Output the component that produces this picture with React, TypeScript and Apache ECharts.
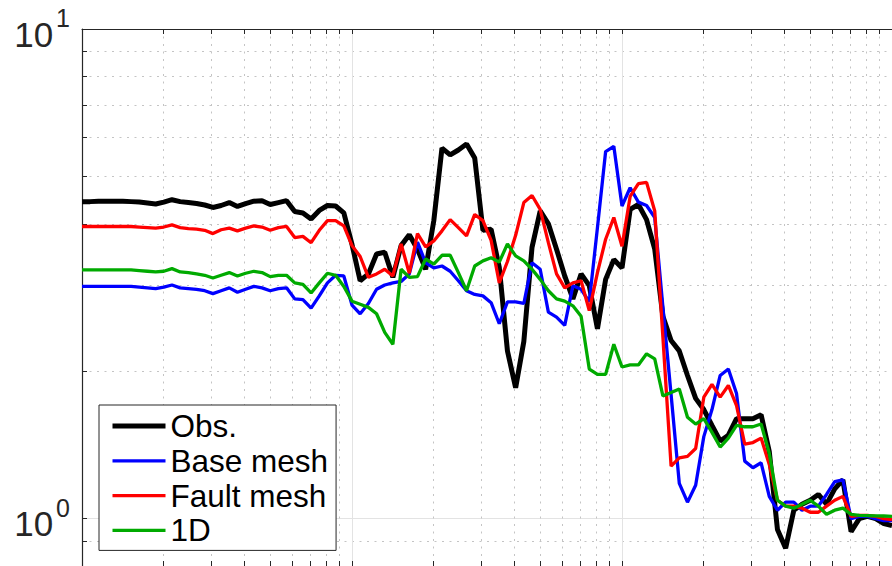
import React, { useEffect, useRef } from "react";
import * as echarts from "echarts";

// Sample periods (log-spaced, 33 per decade)
const PERIOD = [
  0.01, 0.01072, 0.0115, 0.01233, 0.01322, 0.01417, 0.0152, 0.0163, 0.01748, 0.01874,
  0.02009, 0.02154, 0.0231, 0.02477, 0.02656, 0.02848, 0.03054, 0.03275, 0.03511, 0.03765,
  0.04037, 0.04329, 0.04642, 0.04977, 0.05337, 0.05722, 0.06136, 0.06579, 0.07055, 0.07565,
  0.08111, 0.08697, 0.09326,
  0.1, 0.1072, 0.115, 0.1233, 0.1322, 0.1417, 0.152, 0.163, 0.1748, 0.1874,
  0.2009, 0.2154, 0.231, 0.2477, 0.2656, 0.2848, 0.3054, 0.3275, 0.3511, 0.3765,
  0.4037, 0.4329, 0.4642, 0.4977, 0.5337, 0.5722, 0.6136, 0.6579, 0.7055, 0.7565,
  0.8111, 0.8697, 0.9326,
  1, 1.072, 1.15, 1.233, 1.322, 1.417, 1.52, 1.63, 1.748, 1.874,
  2.009, 2.154, 2.31, 2.477, 2.656, 2.848, 3.054, 3.275, 3.511, 3.765,
  4.037, 4.329, 4.642, 4.977, 5.337, 5.722, 6.136, 6.579, 7.055, 7.565,
  8.111, 8.697, 9.326, 10,
];

const OBS = [
  4.44, 4.44, 4.45, 4.45, 4.45, 4.45, 4.44, 4.43, 4.41, 4.39,
  4.43, 4.48, 4.44, 4.42, 4.40, 4.37, 4.32, 4.36, 4.42, 4.34,
  4.40, 4.45, 4.46, 4.38, 4.42, 4.46, 4.24, 4.21, 4.09, 4.26,
  4.36, 4.35, 4.21, 3.63, 3.06, 3.16, 3.47, 3.50, 3.11, 3.61,
  3.80, 3.55, 3.23, 4.06, 5.71, 5.53, 5.66, 5.82, 5.45, 3.88,
  3.90, 3.26, 2.20, 1.85, 2.30, 3.58, 4.25, 4.00, 3.55, 3.13,
  2.81, 3.16, 2.99, 2.44, 3.08, 3.38, 3.25, 4.28, 4.38, 4.08,
  3.55, 2.59, 2.31, 2.20, 1.96, 1.76, 1.67, 1.55, 1.44, 1.48,
  1.60, 1.60, 1.60, 1.63, 1.37, 0.95, 0.87, 1.04, 1.07, 1.09,
  1.12, 1.07, 1.15, 1.20, 0.94, 1.00, 1.01, 1.00, 0.977, 0.968,
];

const BASE_MESH = [
  2.98, 2.98, 2.98, 2.98, 2.98, 2.98, 2.98, 2.97, 2.96, 2.95,
  2.97, 3.00, 2.96, 2.95, 2.94, 2.92, 2.88, 2.92, 2.96, 2.90,
  2.94, 2.98, 2.96, 2.92, 2.95, 2.96, 2.81, 2.80, 2.69, 2.85,
  3.03, 3.14, 3.13, 2.73, 2.62, 2.75, 2.94, 3.00, 3.03, 3.05,
  3.16, 3.67, 3.33, 3.25, 3.28, 3.20, 3.06, 2.92, 2.87, 2.85,
  2.76, 2.50, 2.77, 2.77, 2.75, 3.33, 3.23, 2.64, 2.58, 2.48,
  2.99, 2.94, 2.77, 3.93, 5.62, 5.76, 4.35, 4.74, 4.43, 4.36,
  4.12, 2.71, 1.79, 1.18, 1.08, 1.17, 1.47, 1.67, 1.96, 2.02,
  1.80, 1.31, 1.27, 1.30, 1.11, 1.04, 1.08, 1.08, 1.04, 1.06,
  1.06, 1.12, 1.19, 1.20, 1.00, 1.01, 1.01, 1.00, 0.99, 0.99,
];

const FAULT_MESH = [
  3.95, 3.95, 3.95, 3.95, 3.95, 3.95, 3.95, 3.94, 3.93, 3.92,
  3.94, 3.98, 3.93, 3.91, 3.90, 3.88, 3.82, 3.89, 3.92, 3.87,
  3.92, 3.96, 3.94, 3.88, 3.93, 3.95, 3.75, 3.77, 3.66, 3.88,
  4.06, 4.06, 3.96, 3.61, 3.43, 3.11, 3.16, 3.23, 3.13, 3.64,
  3.17, 3.82, 3.59, 3.69, 3.87, 4.08, 3.93, 3.78, 4.18, 4.06,
  3.70, 3.03, 3.35, 3.79, 4.42, 4.57, 4.28, 3.66, 3.16, 2.96,
  3.03, 3.06, 2.66, 3.18, 3.72, 4.12, 3.60, 4.55, 4.83, 4.86,
  4.25, 2.35, 1.28, 1.33, 1.34, 1.39, 1.77, 1.88, 1.77, 1.87,
  1.70, 1.42, 1.43, 1.46, 1.29, 1.09, 1.06, 1.06, 1.05, 1.03,
  1.03, 1.06, 1.09, 1.11, 1.01, 1.015, 1.015, 1.01, 1.00, 0.995,
];

const ONE_D = [
  3.22, 3.22, 3.22, 3.22, 3.22, 3.22, 3.22, 3.21, 3.20, 3.19,
  3.20, 3.24, 3.19, 3.18, 3.16, 3.14, 3.10, 3.14, 3.18, 3.13,
  3.17, 3.20, 3.18, 3.12, 3.14, 3.14, 3.03, 3.01, 2.89, 3.03,
  3.17, 3.14, 2.98, 2.78, 2.74, 2.70, 2.62, 2.40, 2.27, 3.23,
  3.11, 3.12, 3.39, 3.31, 3.45, 3.45, 3.18, 2.92, 3.28, 3.36,
  3.41, 3.34, 3.64, 3.44, 3.36, 3.23, 3.08, 2.92, 2.81, 2.78,
  2.72, 2.59, 2.02, 1.97, 1.97, 2.27, 2.04, 2.06, 2.06, 2.17,
  2.12, 1.78, 1.81, 1.84, 1.61, 1.56, 1.60, 1.50, 1.40, 1.46,
  1.55, 1.54, 1.54, 1.56, 1.36, 1.09, 1.06, 1.05, 1.07, 1.09,
  1.06, 1.02, 1.04, 1.05, 1.02, 1.015, 1.014, 1.013, 1.012, 1.01,
];

const SERIES_NAMES = ["Obs.", "Base mesh", "Fault mesh", "1D"];
const SERIES_COLORS = ["#000000", "#0000ff", "#ff0000", "#00aa00"];
const SERIES_WIDTHS = [5, 3.3, 3.3, 3.3];
const SERIES_VALUES = [OBS, BASE_MESH, FAULT_MESH, ONE_D];

const X_MIN = 0.01;
const X_MAX = 10;
const Y_MIN = 0.8;
const Y_MAX = 10;

const FONT = "'Liberation Sans', Arial, Helvetica, sans-serif";
const AXIS_COLOR = "#262626";

export default function App() {
  const ref = useRef<HTMLDivElement>(null);

  useEffect(() => {
    if (!ref.current) return;
    const chart = echarts.init(ref.current, undefined, { renderer: "svg" });

    const tickCommon = {
      axisTick: { show: true, inside: true, length: 5, lineStyle: { color: AXIS_COLOR, width: 1 } },
      minorTick: { show: true, splitNumber: 9, length: 5, lineStyle: { color: AXIS_COLOR, width: 1 } },
    };

    const option: any = {
      animation: false,
      backgroundColor: "#ffffff",
      grid: { left: 82, top: 29, width: 815, height: 539, containLabel: false },
      xAxis: [
        {
          type: "log",
          logBase: 10,
          min: X_MIN,
          max: X_MAX,
          position: "bottom",
          axisLine: { show: true, onZero: false, lineStyle: { color: AXIS_COLOR, width: 1 } },
          ...tickCommon,
          axisLabel: { show: false },
          splitLine: { show: true, lineStyle: { color: "#e3e3e3", width: 1 } },
          minorSplitLine: { show: true, lineStyle: { color: "#c4c4c4", width: 1, type: [2, 5.5] } },
        },
        {
          type: "log",
          logBase: 10,
          min: X_MIN,
          max: X_MAX,
          position: "top",
          axisLine: { show: true, onZero: false, lineStyle: { color: AXIS_COLOR, width: 1 } },
          ...tickCommon,
          axisLabel: { show: false },
          splitLine: { show: false },
          minorSplitLine: { show: false },
        },
      ],
      yAxis: [
        {
          type: "log",
          logBase: 10,
          min: Y_MIN,
          max: Y_MAX,
          position: "left",
          axisLine: { show: true, onZero: false, lineStyle: { color: AXIS_COLOR, width: 1.2 } },
          ...tickCommon,
          axisLabel: {
            show: true,
            margin: 12,
            color: AXIS_COLOR,
            fontFamily: FONT,
            formatter: (v: number) => {
              const e = Math.log10(v);
              const r = Math.round(e);
              if (Math.abs(e - r) > 1e-6) return "";
              return "{b|10}{s|" + r + "}";
            },
            rich: {
              b: { fontSize: 35, fontFamily: FONT, color: AXIS_COLOR, lineHeight: 34, padding: [10, 0, 0, 0] },
              s: { fontSize: 25, fontFamily: FONT, color: AXIS_COLOR, lineHeight: 24, padding: [0, 0, 22, 3] },
            },
          },
          splitLine: { show: true, lineStyle: { color: "#e3e3e3", width: 1 } },
          minorSplitLine: { show: true, lineStyle: { color: "#c4c4c4", width: 1, type: [2, 5.5] } },
        },
      ],
      legend: {
        show: true,
        orient: "vertical",
        left: 99,
        top: 405,
        padding: [5, 8, 4, 11],
        itemGap: 2.8,
        itemWidth: 53,
        itemHeight: 31,
        backgroundColor: "#ffffff",
        borderColor: AXIS_COLOR,
        borderWidth: 1,
        borderRadius: 0,
        itemStyle: { opacity: 0 },
        lineStyle: { width: "inherit" },
        textStyle: { fontSize: 31.5, fontFamily: FONT, color: "#000000" },
        data: SERIES_NAMES,
      },
      series: SERIES_NAMES.map((name, k) => ({
        name,
        type: "line",
        xAxisIndex: 0,
        yAxisIndex: 0,
        symbol: "none",
        showSymbol: false,
        clip: true,
        z: 2 + k,
        lineStyle: { color: SERIES_COLORS[k], width: SERIES_WIDTHS[k] },
        itemStyle: { color: SERIES_COLORS[k] },
        data: PERIOD.map((p, i) => [p, SERIES_VALUES[k][i]]),
      })),
    };

    chart.setOption(option);
    return () => chart.dispose();
  }, []);

  return (
    <div
      style={{ position: "fixed", left: 0, top: 0, width: 892, height: 566, background: "#fff" }}
    >
      <div ref={ref} style={{ width: 892, height: 566 }} />
    </div>
  );
}
